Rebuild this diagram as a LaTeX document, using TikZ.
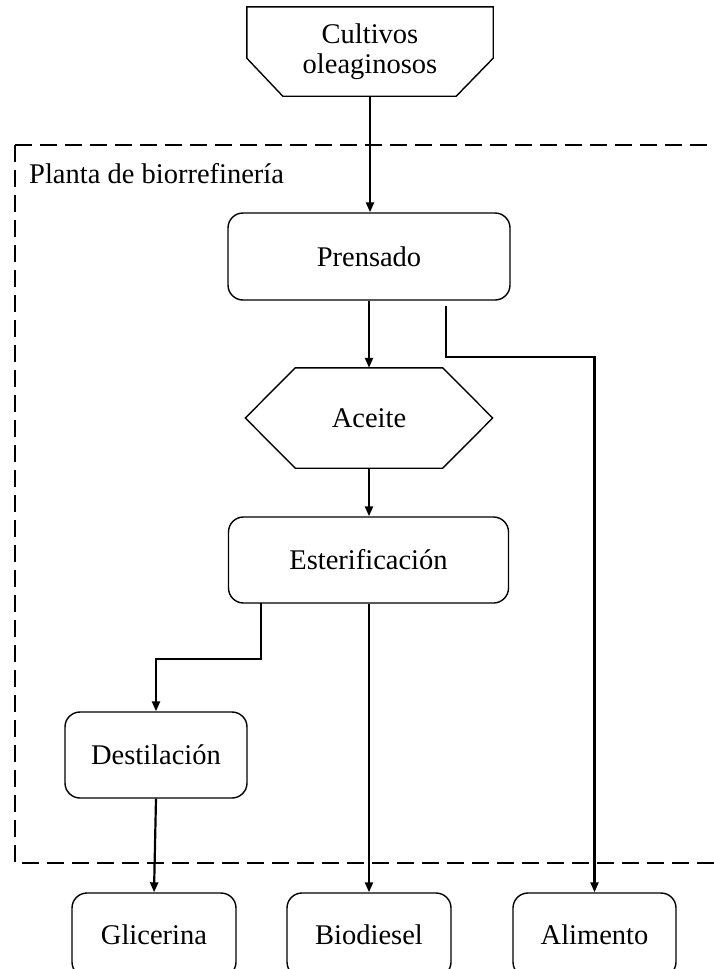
\documentclass[tikz,border=0pt]{standalone}
\usepackage{fontspec}
\setmainfont{Liberation Serif}
\usetikzlibrary{arrows.meta,calc}

\tikzset{
  box/.style={draw, line width=1.4pt, rounded corners=15pt, align=center,
              inner sep=0pt},
  blank/.style={inner sep=0pt, align=center},
  shapeline/.style={line width=1.4pt, line join=miter},
  arr/.style={line width=2.2pt, -{Triangle[length=10pt,width=8pt]}},
  frame/.style={line width=2pt, dash pattern=on 17pt off 8pt},
}

\begin{document}
\begin{tikzpicture}[x=1pt, y=-1pt, font=\fontsize{28.5}{33}\selectfont]
  \useasboundingbox (0,0) rectangle (714,969);
  \clip (0,0) rectangle (714,969);

  % plant boundary
  \draw[frame] (15,145) -- (730,145) (15,145) -- (15,863) -- (730,863);
  \node[blank, anchor=west] (plant) at (29,174) {Planta de biorrefinería};

  % feedstock (chamfered input shape)
  \node[blank, minimum width=246pt, minimum height=89pt] (cult) at (370,51.5)
    {Cultivos\\[-3pt]oleaginosos};
  \draw[shapeline] (cult.north west) -- (cult.north east)
    -- ([yshift=38pt]cult.south east) -- ([xshift=-37pt]cult.south east)
    -- ([xshift=36pt]cult.south west) -- ([yshift=38pt]cult.south west) -- cycle;

  % process steps
  \node[box, minimum width=282pt, minimum height=87pt] (pren) at (369,256.5) {Prensado};

  \node[blank, minimum width=247pt, minimum height=100pt] (acei) at (369,418) {Aceite};
  \draw[shapeline] (acei.west) -- ([xshift=50pt]acei.north west)
    -- ([xshift=-50pt]acei.north east) -- (acei.east)
    -- ([xshift=-50pt]acei.south east) -- ([xshift=50pt]acei.south west) -- cycle;

  \node[box, minimum width=280pt, minimum height=86pt] (ester) at (368.5,560) {Esterificación};
  \node[box, minimum width=182pt, minimum height=86pt] (dest) at (156,755) {Destilación};

  % products
  \node[box, minimum width=164pt, minimum height=84pt] (glic) at (154,935) {Glicerina};
  \node[box, minimum width=164pt, minimum height=84pt] (bio) at (369,935) {Biodiesel};
  \node[box, minimum width=163pt, minimum height=84pt] (alim) at (594.5,935) {Alimento};

  % flows
  \draw[arr] (cult.south) -- (cult.south |- pren.north);
  \draw[arr] (pren.south) -- (acei.north);
  \coordinate (cakeStart) at (446,306);
  \coordinate (cakeTurn) at (594.5,357);
  \draw[arr] (cakeStart) |- (cakeTurn) -- (alim.north);
  \draw[arr] (acei.south) -- (acei.south |- ester.north);
  \coordinate (glyStart) at (261,603);
  \coordinate (glyTurn) at (156,659);
  \draw[arr] (glyStart) |- (glyTurn) -- (dest.north);
  \draw[arr] (ester.south -| bio.north) -- (bio.north);
  \draw[arr] (dest.south) -- (glic.north);
\end{tikzpicture}
\end{document}
